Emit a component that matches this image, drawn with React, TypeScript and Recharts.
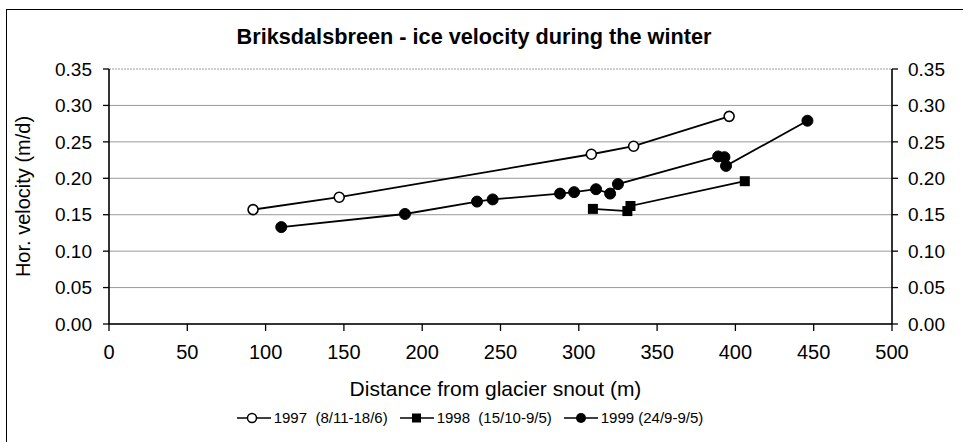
import React from 'react';
import { LineChart, Line, XAxis, YAxis, ReferenceLine, Legend } from 'recharts';

// distance from snout (m) and horizontal velocity (m/d)
const dist1997 = [92, 147, 308, 335, 396];
const vel1997 = [0.157, 0.174, 0.233, 0.244, 0.285];

const dist1998 = [309, 331, 333, 406];
const vel1998 = [0.158, 0.155, 0.162, 0.196];

const dist1999 = [110, 189, 235, 245, 288, 297, 311, 320, 325, 389, 393, 394, 446];
const vel1999 = [0.133, 0.151, 0.168, 0.171, 0.179, 0.181, 0.185, 0.179, 0.192, 0.230, 0.229, 0.217, 0.279];

const xTicks = [0, 50, 100, 150, 200, 250, 300, 350, 400, 450, 500];
const yTicks = [0, 0.05, 0.1, 0.15, 0.2, 0.25, 0.3, 0.35];

const seriesNames = ['1997  (8/11-18/6)', '1998  (15/10-9/5)', '1999 (24/9-9/5)'];

const toPoints = (xs: number[], ys: number[]) => xs.map((x, i) => ({ x, y: ys[i] }));

const FONT = '"Liberation Sans", Arial, sans-serif';

const OpenDot = (props: any) => {
  const { cx, cy } = props;
  if (cx == null || cy == null) return null;
  return <circle cx={cx} cy={cy} r={5} fill="#fff" stroke="#000" strokeWidth={1.6} />;
};

const FilledDot = (props: any) => {
  const { cx, cy } = props;
  if (cx == null || cy == null) return null;
  return <circle cx={cx} cy={cy} r={5.5} fill="#000" stroke="#000" strokeWidth={1} />;
};

const SquareDot = (props: any) => {
  const { cx, cy } = props;
  if (cx == null || cy == null) return null;
  return <rect x={cx - 5} y={cy - 5} width={10} height={10} fill="#000" />;
};

const LegendIcon = ({ kind }: { kind: number }) => (
  <svg width={34} height={14} style={{ marginRight: 3 }}>
    <line x1={0} y1={7} x2={34} y2={7} stroke="#000" strokeWidth={1.6} />
    {kind === 0 && <circle cx={15} cy={7} r={4.5} fill="#fff" stroke="#000" strokeWidth={1.5} />}
    {kind === 1 && <rect x={12} y={2.5} width={9} height={9} fill="#000" />}
    {kind === 2 && <circle cx={17} cy={7} r={5} fill="#000" />}
  </svg>
);

const CustomLegend = () => (
  <div style={{ display: 'flex', justifyContent: 'center', alignItems: 'center', fontFamily: FONT, fontSize: 15, color: '#000' }}>
    {seriesNames.map((name, i) => (
      <div key={name} style={{ display: 'flex', alignItems: 'center', marginLeft: i ? 12 : 0, whiteSpace: 'pre' }}>
        <LegendIcon kind={i} />
        <span>{name}</span>
      </div>
    ))}
  </div>
);

const tickStyle = { fill: '#000', fontSize: 19, fontFamily: FONT };

export default function App() {
  return (
    <div style={{ position: 'absolute', left: 0, top: 0, width: 963, height: 442, overflow: 'hidden', background: '#fff' }}>
      <div style={{ position: 'absolute', left: 6, top: 9, width: 1000, height: 500, border: '1.5px solid #000' }} />
      <div
        style={{
          position: 'absolute',
          left: 0,
          width: 948,
          top: 26,
          textAlign: 'center',
          fontFamily: FONT,
          fontWeight: 'bold',
          fontSize: 21.7,
          lineHeight: '22px',
        }}
      >
        Briksdalsbreen - ice velocity during the winter
      </div>
      <div style={{ position: 'absolute', left: 0, top: 0 }}>
        <LineChart width={963} height={442} margin={{ top: 69, right: 0, bottom: 66, left: 0 }}>
          {/* horizontal gridlines at each y tick */}
          {yTicks.map((t) => (
            <ReferenceLine
              key={t}
              yAxisId="left"
              y={t}
              stroke="#9a9a9a"
              strokeWidth={1}
              strokeDasharray={t === 0.35 ? '2 1' : undefined}
            />
          ))}
          <XAxis
            type="number"
            dataKey="x"
            domain={[0, 500]}
            ticks={xTicks}
            interval={0}
            height={35}
            tickSize={7}
            tickMargin={14}
            axisLine={{ stroke: '#000', strokeWidth: 1.6 }}
            tickLine={{ stroke: '#000', strokeWidth: 1.3 }}
            tick={{ fill: '#000', fontSize: 20, fontFamily: FONT }}
            label={(p: any) => {
              const vb = p.viewBox;
              return (
                <text x={vb.x + vb.width / 2 - 5} y={396} textAnchor="middle" fill="#000" fontSize={21} fontFamily={FONT}>
                  Distance from glacier snout (m)
                </text>
              );
            }}
          />
          <YAxis
            yAxisId="left"
            type="number"
            domain={[0, 0.35]}
            ticks={yTicks}
            interval={0}
            width={109}
            tickSize={6}
            tickMargin={11}
            tickFormatter={(v: number) => v.toFixed(2)}
            axisLine={{ stroke: '#000', strokeWidth: 1.6 }}
            tickLine={{ stroke: '#000', strokeWidth: 1.3 }}
            tick={tickStyle}
            label={(p: any) => {
              const vb = p.viewBox;
              const cx = vb.x + 30;
              const cy = vb.y + vb.height / 2;
              return (
                <text x={cx} y={cy} transform={`rotate(-90, ${cx}, ${cy})`} textAnchor="middle" fill="#000" fontSize={20} fontFamily={FONT}>
                  Hor. velocity (m/d)
                </text>
              );
            }}
          />
          <YAxis
            yAxisId="right"
            orientation="right"
            type="number"
            domain={[0, 0.35]}
            ticks={yTicks}
            interval={0}
            width={71}
            tickSize={6}
            tickMargin={10}
            tickFormatter={(v: number) => v.toFixed(2)}
            axisLine={{ stroke: '#000', strokeWidth: 1.6 }}
            tickLine={{ stroke: '#000', strokeWidth: 1.3 }}
            tick={tickStyle}
          />
          <Line
            yAxisId="left"
            data={toPoints(dist1997, vel1997)}
            dataKey="y"
            name={seriesNames[0]}
            type="linear"
            stroke="#000"
            strokeWidth={1.8}
            dot={<OpenDot />}
            isAnimationActive={false}
          />
          {/* same 0–0.35 scale on both sides, so this series can drive the right axis */}
          <Line
            yAxisId="right"
            data={toPoints(dist1998, vel1998)}
            dataKey="y"
            name={seriesNames[1]}
            type="linear"
            stroke="#000"
            strokeWidth={1.8}
            dot={<SquareDot />}
            isAnimationActive={false}
          />
          <Line
            yAxisId="left"
            data={toPoints(dist1999, vel1999)}
            dataKey="y"
            name={seriesNames[2]}
            type="linear"
            stroke="#000"
            strokeWidth={1.8}
            dot={<FilledDot />}
            isAnimationActive={false}
          />
          <Legend content={<CustomLegend />} wrapperStyle={{ position: 'absolute', top: 409, left: 0, width: 940 }} />
        </LineChart>
      </div>
    </div>
  );
}
